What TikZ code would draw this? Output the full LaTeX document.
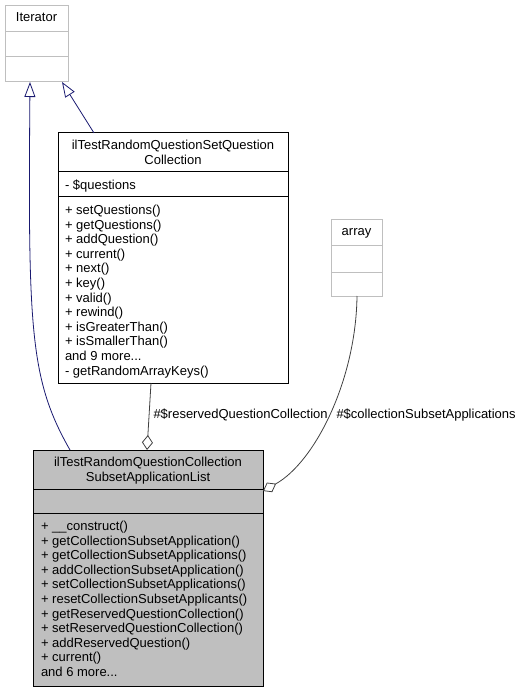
\documentclass[tikz,border=0pt]{standalone}
\usepackage{fontspec}
\setmainfont{Liberation Sans}
\usetikzlibrary{arrows.meta,calc}
\definecolor{navyedge}{HTML}{191970}
\definecolor{lightframe}{HTML}{BFBFBF}
\definecolor{aggedge}{HTML}{404040}
\definecolor{selffill}{HTML}{BFBFBF}
\def\moredots{...}
\begin{document}
\begin{tikzpicture}[x=1pt,y=-1pt,
  every node/.style={font=\fontsize{13}{14}\selectfont, inner sep=0pt, outer sep=0pt},
  extbox/.style={draw=lightframe, line width=1pt, fill=white, anchor=north west},
  classbox/.style={draw=black, line width=1pt, fill=white, anchor=north west},
  selfbox/.style={draw=black, line width=1pt, fill=selffill, anchor=north west},
  extline/.style={draw=lightframe, line width=1pt},
  boxline/.style={draw=black, line width=1pt},
  member/.style={anchor=base west},
  title/.style={anchor=base},
  inherit/.style={draw=navyedge, line width=0.8pt, -{Triangle[open,length=15pt,width=11pt]}},
  aggr/.style={draw=aggedge, line width=0.8pt, -{Diamond[open,length=15pt,width=11pt]}},
  elabel/.style={anchor=base west}]
\useasboundingbox (0,0) rectangle (523,692);

% Iterator
\node[extbox, minimum width=63pt, minimum height=76pt] (iter) at (5,6) {};
\draw[extline] (iter.west |- 0,32) -- (iter.east |- 0,32);
\draw[extline] (iter.west |- 0,57) -- (iter.east |- 0,57);
\node[title] (itername) at (36.5,22) {Iterator};

% array
\node[extbox, minimum width=51pt, minimum height=76pt] (arr) at (331,220) {};
\draw[extline] (arr.west |- 0,246) -- (arr.east |- 0,246);
\draw[extline] (arr.west |- 0,272) -- (arr.east |- 0,272);
\node[title] (arrname) at (356.5,236) {array};

% ilTestRandomQuestionSetQuestionCollection
\node[classbox, minimum width=230pt, minimum height=250pt] (setq) at (58,133) {};
\draw[boxline] (setq.west |- 0,172) -- (setq.east |- 0,172);
\draw[boxline] (setq.west |- 0,197) -- (setq.east |- 0,197);
\node[title] (sqt1) at (173,149.7) {ilTestRandomQuestionSetQuestion};
\node[title] (sqt2) at (173,164.3) {Collection};
\node[member] (sqa1) at (65,189.5) {- \$questions};
\foreach \t [count=\i from 0] in {+ setQuestions(), + getQuestions(), + addQuestion(), + current(), + next(), + key(), + valid(), + rewind(), + isGreaterThan(), + isSmallerThan(), and 9 more\moredots, - getRandomArrayKeys()}
  \node[member] (sqm\i) at (65,214.5+14.6*\i) {\t};

% ilTestRandomQuestionCollectionSubsetApplicationList
\node[selfbox, minimum width=230pt, minimum height=236pt] (self) at (33,450) {};
\draw[boxline] (self.west |- 0,489) -- (self.east |- 0,489);
\draw[boxline] (self.west |- 0,513) -- (self.east |- 0,513);
\node[title] (st1) at (148,466.7) {ilTestRandomQuestionCollection};
\node[title] (st2) at (148,481.3) {SubsetApplicationList};
\foreach \t [count=\i from 0] in {+ \_\_construct(), + getCollectionSubsetApplication(), + getCollectionSubsetApplications(), + addCollectionSubsetApplication(), + setCollectionSubsetApplications(), + resetCollectionSubsetApplicants(), + getReservedQuestionCollection(), + setReservedQuestionCollection(), + addReservedQuestion(), + current(), and 6 more\moredots}
  \node[member] (sm\i) at (41,530.5+14.6*\i) {\t};

% edges
\draw[inherit] ($(self.north west)+(37,0)$) .. controls (30,380) and (28,330) .. ($(iter.south west)+(25,0)$);
\draw[inherit] ($(setq.north west)+(36,0)$) -- ($(iter.south west)+(57,0)$);
\draw[aggr] ($(setq.south west)+(93,0)$) -- ($(self.north west)+(114,0)$);
\draw[aggr] ($(arr.south west)+(26,0)$) .. controls (356,380) and (315,462) .. ($(self.north east)+(0,41)$);

\node[elabel] (lab1) at (153.5,418.5) {\#\$reservedQuestionCollection};
\node[elabel] (lab2) at (336.5,418.5) {\#\$collectionSubsetApplications};
\end{tikzpicture}
\end{document}
